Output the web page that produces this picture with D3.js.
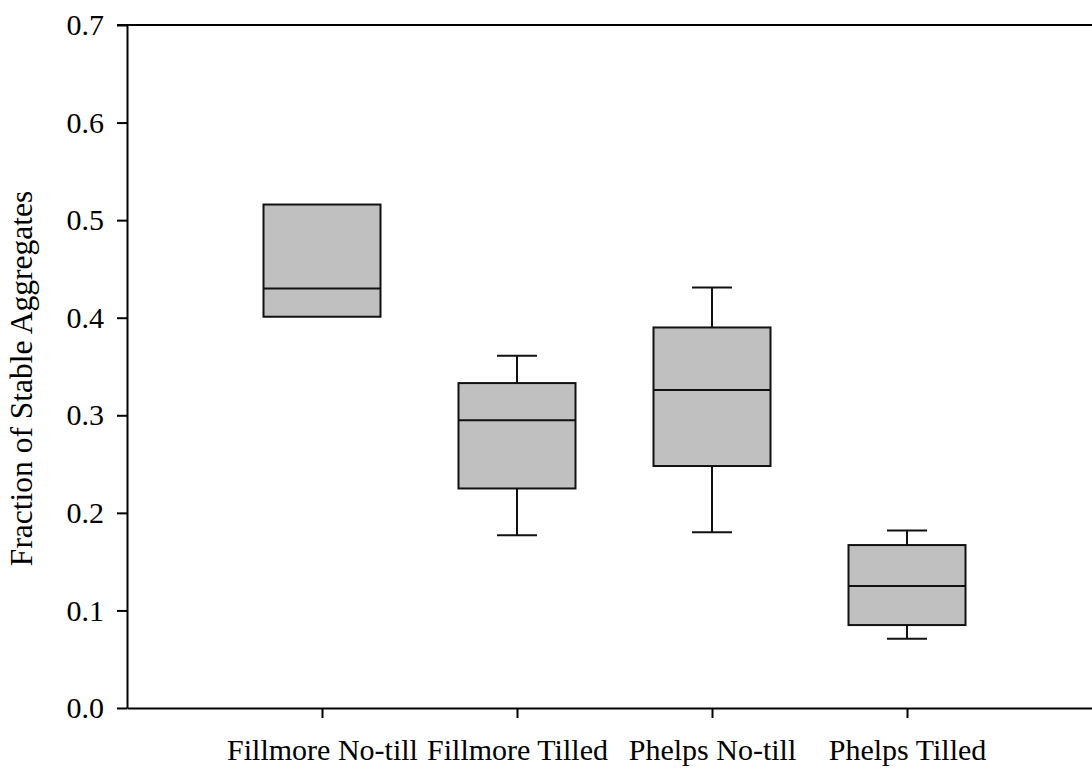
<!DOCTYPE html>
<html>
<head>
<meta charset="utf-8">
<script src="https://cdn.jsdelivr.net/npm/d3@7"></script>
<style>
  body { margin: 0; background: #fff; }
  svg text { font-family: "Liberation Serif", "Times New Roman", serif; fill: #000; }
</style>
</head>
<body>
<div id="chart"></div>
<script>
// data
var categories = ["Fillmore No-till", "Fillmore Tilled", "Phelps No-till", "Phelps Tilled"];
var lowerWhisker = [0.401, 0.177, 0.180, 0.071];
var q1Values     = [0.401, 0.225, 0.248, 0.085];
var medianValues = [0.430, 0.295, 0.326, 0.125];
var q3Values     = [0.516, 0.333, 0.390, 0.167];
var upperWhisker = [0.516, 0.361, 0.431, 0.182];
var yTicks = [0, 0.1, 0.2, 0.3, 0.4, 0.5, 0.6, 0.7];

var plotVariables = {
  width: 1092,
  height: 769,
  left: 127,
  top: 25,
  bottom: 708,
  right: 1102,
  fontSize: 30,
  titleSize: 31.5
};

var boxes = categories.map(function (c, i) {
  return { name: c, lo: lowerWhisker[i], q1: q1Values[i], med: medianValues[i], q3: q3Values[i], hi: upperWhisker[i] };
});

var svg = d3.select("#chart").append("svg")
  .attr("width", plotVariables.width)
  .attr("height", plotVariables.height);

var x = d3.scalePoint()
  .domain(categories)
  .range([plotVariables.left, plotVariables.right])
  .padding(1);

var y = d3.scaleLinear()
  .domain([0, 0.7])
  .range([plotVariables.bottom, plotVariables.top]);

var boxW = x.step() * 0.6;
var capW = 40;

// boxes
var g = svg.append("g");
var box = g.selectAll("g.box")
  .data(boxes)
  .join("g")
  .attr("class", "box");

// whiskers (first group has none)
box.filter(d => d.hi > d.q3).append("line")
  .attr("x1", d => x(d.name)).attr("x2", d => x(d.name))
  .attr("y1", d => y(d.q3)).attr("y2", d => y(d.hi))
  .attr("stroke", "#111").attr("stroke-width", 2);
box.filter(d => d.hi > d.q3).append("line")
  .attr("x1", d => x(d.name) - capW / 2).attr("x2", d => x(d.name) + capW / 2)
  .attr("y1", d => y(d.hi)).attr("y2", d => y(d.hi))
  .attr("stroke", "#111").attr("stroke-width", 2);
box.filter(d => d.lo < d.q1).append("line")
  .attr("x1", d => x(d.name)).attr("x2", d => x(d.name))
  .attr("y1", d => y(d.q1)).attr("y2", d => y(d.lo))
  .attr("stroke", "#111").attr("stroke-width", 2);
box.filter(d => d.lo < d.q1).append("line")
  .attr("x1", d => x(d.name) - capW / 2).attr("x2", d => x(d.name) + capW / 2)
  .attr("y1", d => y(d.lo)).attr("y2", d => y(d.lo))
  .attr("stroke", "#111").attr("stroke-width", 2);

box.append("rect")
  .attr("x", d => x(d.name) - boxW / 2)
  .attr("width", boxW)
  .attr("y", d => y(d.q3))
  .attr("height", d => y(d.q1) - y(d.q3))
  .attr("fill", "#c0c0c0")
  .attr("stroke", "#111")
  .attr("stroke-width", 2);

box.append("line")
  .attr("x1", d => x(d.name) - boxW / 2).attr("x2", d => x(d.name) + boxW / 2)
  .attr("y1", d => y(d.med)).attr("y2", d => y(d.med))
  .attr("stroke", "#111").attr("stroke-width", 2);

// y axis
var yAxis = svg.append("g")
  .attr("transform", `translate(${plotVariables.left},0)`)
  .call(d3.axisLeft(y).tickValues(yTicks).tickFormat(d3.format(".1f")).tickSize(10).tickSizeOuter(0).tickPadding(13));
yAxis.attr("font-family", null).attr("font-size", null);
yAxis.select(".domain").attr("stroke", "#000").attr("stroke-width", 2);
yAxis.selectAll(".tick line").attr("stroke", "#000").attr("stroke-width", 2);
yAxis.selectAll(".tick text")
  .attr("font-size", plotVariables.fontSize);

// x axis
var xAxis = svg.append("g")
  .attr("transform", `translate(0,${plotVariables.bottom})`)
  .call(d3.axisBottom(x).tickSize(10).tickSizeOuter(0).tickPadding(14));
xAxis.attr("font-family", null).attr("font-size", null);
xAxis.select(".domain").attr("stroke", "#000").attr("stroke-width", 2);
xAxis.selectAll(".tick line").attr("stroke", "#000").attr("stroke-width", 2);
xAxis.selectAll(".tick text")
  .attr("font-size", plotVariables.fontSize)
  .attr("dy", null)
  .attr("y", 52);

// top line
svg.append("line")
  .attr("x1", plotVariables.left - 10).attr("x2", plotVariables.right)
  .attr("y1", y(0.7)).attr("y2", y(0.7))
  .attr("stroke", "#000").attr("stroke-width", 2);

// y title
svg.append("text")
  .attr("transform", `translate(32,${(plotVariables.top + plotVariables.bottom) / 2 + 12}) rotate(-90)`)
  .attr("text-anchor", "middle")
  .attr("font-size", plotVariables.titleSize)
  .text("Fraction of Stable Aggregates");
</script>
</body>
</html>
